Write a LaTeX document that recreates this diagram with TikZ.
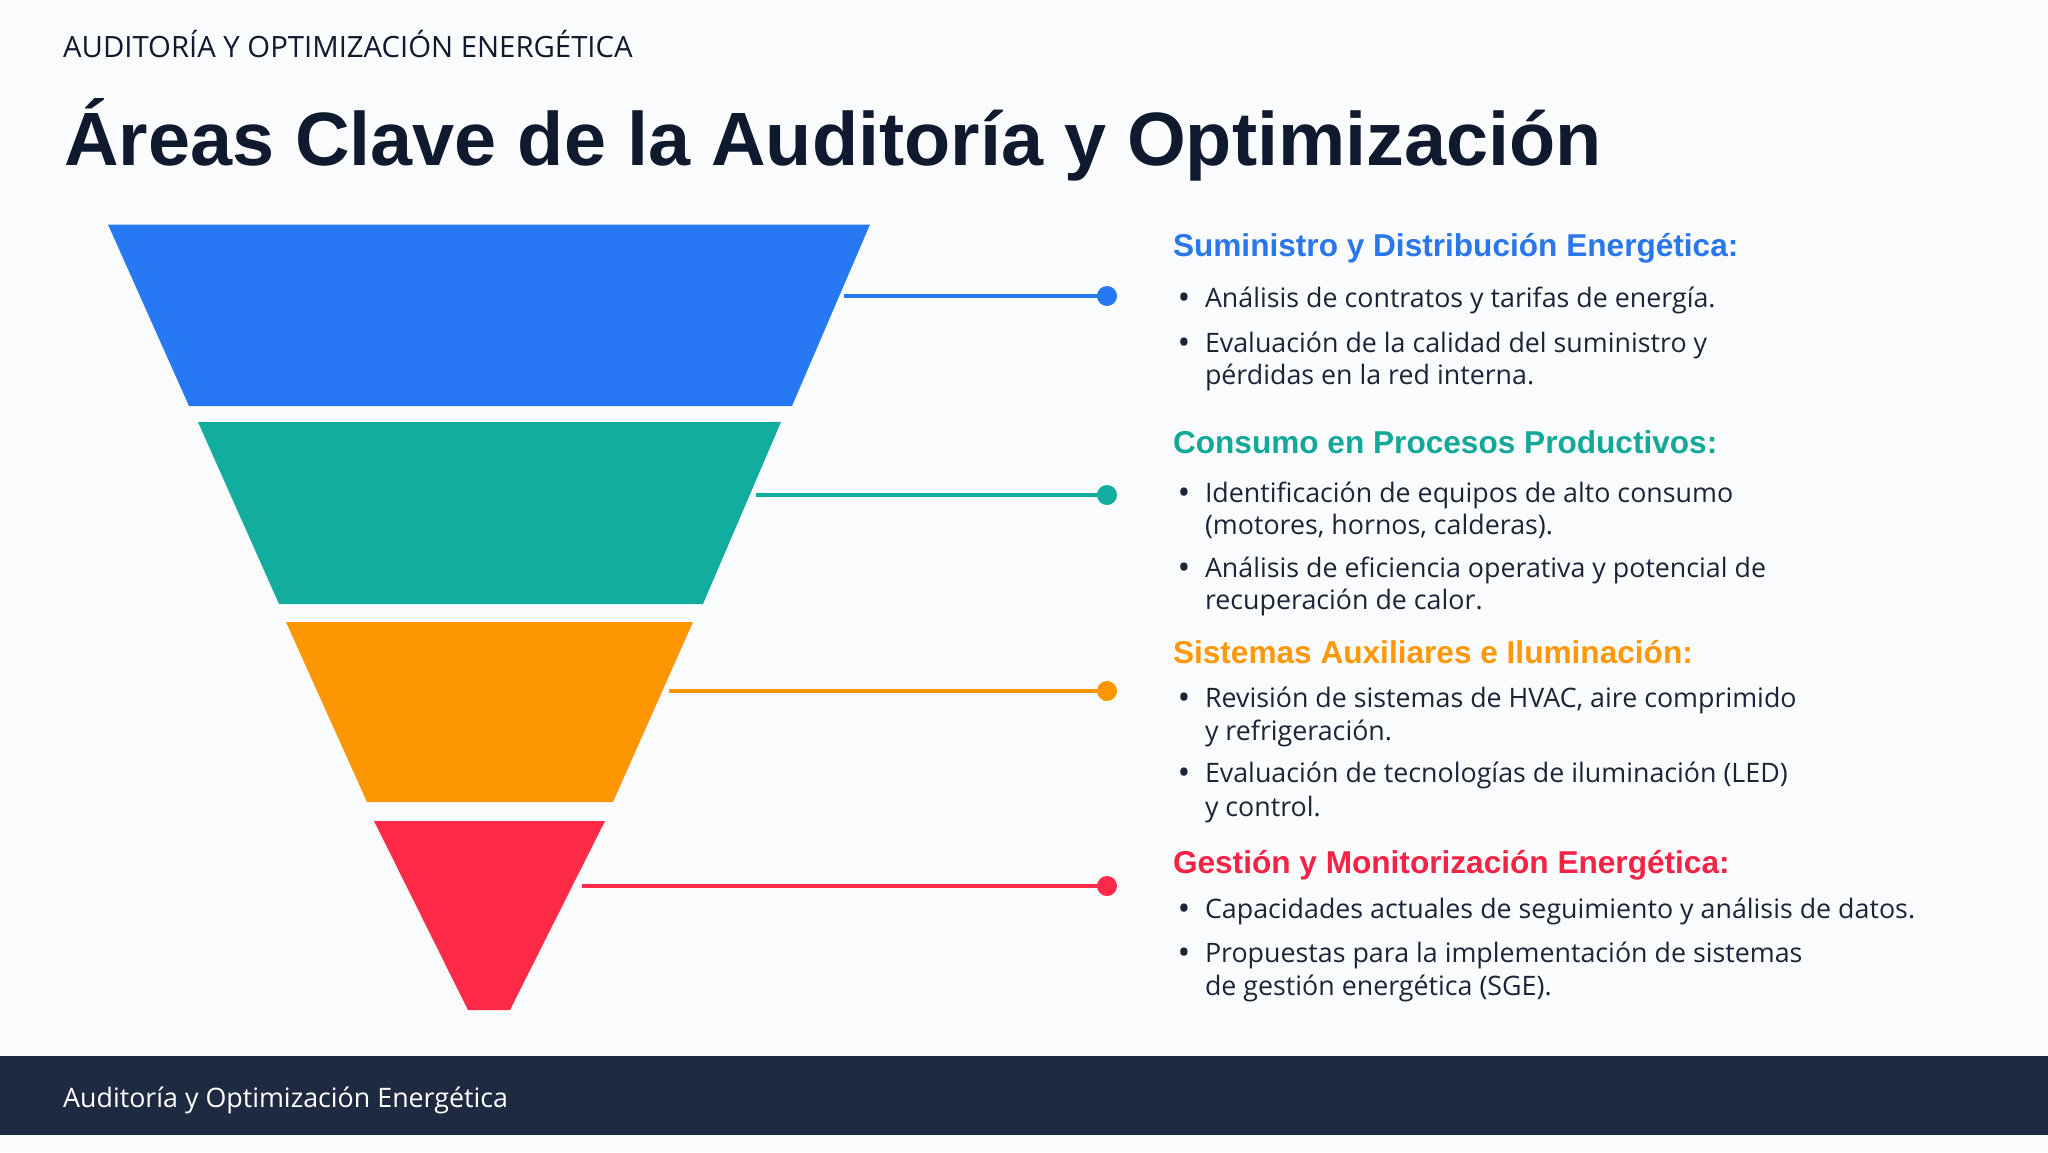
\documentclass[tikz,border=0pt]{standalone}
\usepackage{fontspec}
\setmainfont{Open Sans}
\newfontfamily\titlefont{Liberation Sans}
\newfontfamily\bodyfont{Open Sans}
\definecolor{bgc}{HTML}{FAFBFC}
\definecolor{navy}{HTML}{0F1A2E}
\definecolor{bodyc}{HTML}{1C2438}
\definecolor{footc}{HTML}{1E2A42}
\definecolor{cblue}{HTML}{2779F3}
\definecolor{cteal}{HTML}{11AE9F}
\definecolor{corange}{HTML}{FD9603}
\definecolor{cred}{HTML}{FE2A47}
\definecolor{hblue}{HTML}{2A77EC}
\definecolor{hteal}{HTML}{13A898}
\definecolor{horange}{HTML}{FC980A}
\definecolor{hred}{HTML}{F42346}
\tikzset{
  txt/.style={anchor=base west, inner sep=0pt, outer sep=0pt, text=bodyc, font=\bodyfont\fontsize{26.8}{32}\selectfont},
  bul/.style={anchor=base, inner sep=0pt, outer sep=0pt, text=bodyc, font=\bodyfont\fontsize{34}{34}\selectfont},
  head/.style={anchor=base west, inner sep=0pt, outer sep=0pt, font=\titlefont\bfseries\fontsize{31.6}{36}\selectfont},
  dot/.style={circle, inner sep=0pt, minimum size=20pt},
  conn/.style={line width=4pt}
}
\begin{document}
\begin{tikzpicture}[x=1pt,y=-1pt]
\useasboundingbox (0,0) rectangle (2048,1152);
\fill[bgc] (0,0) rectangle (2048,1152);
% header
\node[anchor=base west, inner sep=0pt, text=navy, font=\bodyfont\fontsize{29.3}{32}\selectfont] (hdr) at (63,57) {AUDITORÍA Y OPTIMIZACIÓN ENERGÉTICA};
\node[anchor=base west, inner sep=0pt, text=navy, font=\titlefont\bfseries\fontsize{75.6}{80}\selectfont] (title) at (64,165) {Áreas Clave de la Auditoría y Optimización};
% funnel
\fill[cblue] (108,224.5) -- (870,224.5) -- (792,406) -- (189,406) -- cycle;
\fill[cteal] (198,422) -- (781,422) -- (703,604) -- (279,604) -- cycle;
\fill[corange] (286,622) -- (693,622) -- (613,802) -- (367,802) -- cycle;
\fill[cred] (374,821) -- (605,821) -- (510,1010) -- (468,1010) -- cycle;
% connectors
\coordinate (s1) at (844,296);
\coordinate (s2) at (756,495);
\coordinate (s3) at (669,691);
\coordinate (s4) at (582,886);
\node[dot, fill=cblue] (d1) at (1107,296) {};
\node[dot, fill=cteal] (d2) at (1107,495) {};
\node[dot, fill=corange] (d3) at (1107,691) {};
\node[dot, fill=cred] (d4) at (1107,886) {};
\draw[conn, cblue] (s1) -- (d1.center);
\draw[conn, cteal] (s2) -- (d2.center);
\draw[conn, corange] (s3) -- (d3.center);
\draw[conn, cred] (s4) -- (d4.center);
% section 1
\node[head, text=hblue] (h1) at (1173,256) {Suministro y Distribución Energética:};
\node[bul] (b11) at (1184,309) {•};
\node[txt] (t11) at (1205,307) {Análisis de contratos y tarifas de energía.};
\node[bul] (b12) at (1184,354) {•};
\node[txt] (t12) at (1205,352) {Evaluación de la calidad del suministro y};
\node[txt] (t12b) at (1205,384) {pérdidas en la red interna.};
% section 2
\node[head, text=hteal] (h2) at (1173,453) {Consumo en Procesos Productivos:};
\node[bul] (b21) at (1184,504) {•};
\node[txt] (t21) at (1205,502) {Identificación de equipos de alto consumo};
\node[txt] (t21b) at (1205,534.5) {(motores, hornos, calderas).};
\node[bul] (b22) at (1184,579.5) {•};
\node[txt] (t22) at (1205,577.5) {Análisis de eficiencia operativa y potencial de};
\node[txt] (t22b) at (1205,609.5) {recuperación de calor.};
% section 3
\node[head, text=horange] (h3) at (1173,663.5) {Sistemas Auxiliares e Iluminación:};
\node[bul] (b31) at (1184,709.5) {•};
\node[txt] (t31) at (1205,707.5) {Revisión de sistemas de HVAC, aire comprimido};
\node[txt] (t31b) at (1205,740) {y refrigeración.};
\node[bul] (b32) at (1184,784) {•};
\node[txt] (t32) at (1205,782) {Evaluación de tecnologías de iluminación (LED)};
\node[txt] (t32b) at (1205,816) {y control.};
% section 4
\node[head, text=hred] (h4) at (1173,873) {Gestión y Monitorización Energética:};
\node[bul] (b41) at (1184,920.5) {•};
\node[txt] (t41) at (1205,918.5) {Capacidades actuales de seguimiento y análisis de datos.};
\node[bul] (b42) at (1184,964) {•};
\node[txt] (t42) at (1205,962) {Propuestas para la implementación de sistemas};
\node[txt] (t42b) at (1205,995) {de gestión energética (SGE).};
% footer
\fill[footc] (0,1056) rectangle (2048,1135);
\node[anchor=base west, inner sep=0pt, text=white, font=\bodyfont\fontsize{26.8}{30}\selectfont] (ftr) at (63,1107) {Auditoría y Optimización Energética};
\end{tikzpicture}
\end{document}
